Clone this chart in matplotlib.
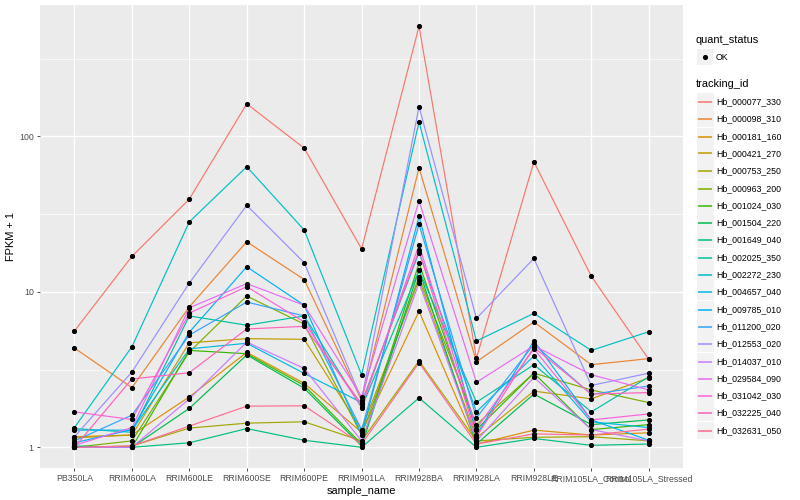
import numpy as np
import matplotlib
matplotlib.use("Agg")
from matplotlib import pyplot as plt
from matplotlib.lines import Line2D
from matplotlib.patches import Rectangle

plt.rcParams['font.family'] = ['Liberation Sans', 'DejaVu Sans']

samples = ['PB350LA', 'RRIM600LA', 'RRIM600LE', 'RRIM600SE', 'RRIM600PE', 'RRIM901LA',
           'RRIM928BA', 'RRIM928LA', 'RRIM928LE', 'RRIM105LA_Control', 'RRIM105LA_Stressed']

genes = ['Hb_000077_330', 'Hb_000098_310', 'Hb_000181_160', 'Hb_000421_270', 'Hb_000753_250',
         'Hb_000963_200', 'Hb_001024_030', 'Hb_001504_220', 'Hb_001649_040', 'Hb_002025_350',
         'Hb_002272_230', 'Hb_004657_040', 'Hb_009785_010', 'Hb_011200_020', 'Hb_012553_020',
         'Hb_014037_010', 'Hb_029584_090', 'Hb_031042_030', 'Hb_032225_040', 'Hb_032631_050']

# FPKM + 1, one row per gene, one column per sample
fpkm = [
    [5.6, 16.9, 39.5, 162, 84, 18.9, 510, 3.75, 68.7, 12.6, 3.68],
    [4.35, 2.42, 8.0, 21, 12.0, 2.0, 62.8, 3.55, 6.4, 3.4, 3.72],
    [1.17, 1.2, 2.11, 4.08, 2.58, 1.25, 7.5, 1.05, 1.29, 1.2, 1.24],
    [1.15, 1.2, 4.7, 5.0, 4.95, 1.3, 12.0, 1.15, 2.3, 2.05, 2.8],
    [1.0, 1.02, 1.33, 1.43, 1.46, 1.1, 3.6, 1.1, 1.16, 1.17, 1.1],
    [1.0, 1.1, 4.1, 9.4, 6.2, 1.2, 12.5, 1.4, 3.0, 2.34, 1.94],
    [1.0, 1.0, 4.2, 4.0, 2.5, 1.05, 15.3, 1.3, 3.0, 1.3, 1.4],
    [1.01, 1.0, 1.78, 3.93, 2.4, 1.02, 13.8, 1.05, 2.2, 1.4, 1.5],
    [1.02, 1.0, 1.07, 1.32, 1.11, 1.0, 2.08, 1.0, 1.14, 1.03, 1.05],
    [1.32, 1.25, 7.0, 6.1, 7.0, 1.8, 13.8, 1.95, 3.4, 1.69, 2.84],
    [1.34, 4.43, 28.2, 63.8, 25, 2.92, 124, 4.83, 7.27, 4.2, 5.54],
    [1.29, 1.29, 4.3, 4.67, 2.99, 1.94, 17.9, 1.69, 3.87, 1.46, 1.34],
    [1.07, 1.3, 5.5, 14.5, 8.2, 1.2, 30.6, 1.2, 4.85, 1.5, 1.11],
    [1.1, 1.61, 5.27, 8.6, 7.0, 1.3, 27.2, 1.55, 4.6, 2.19, 2.48],
    [1.17, 3.05, 11.4, 36, 15.4, 2.03, 155, 6.75, 16.4, 2.5, 3.0],
    [1.0, 1.0, 2.05, 4.75, 3.22, 1.1, 11.4, 1.1, 2.82, 1.3, 1.1],
    [1.03, 1.34, 7.9, 11.3, 8.2, 2.11, 38.5, 2.62, 4.5, 2.93, 2.34],
    [1.69, 1.51, 7.3, 10.8, 6.4, 1.82, 20, 1.32, 4.3, 1.5, 1.64],
    [1.0, 2.75, 3.02, 5.77, 6.0, 1.9, 18.5, 1.17, 4.4, 2.2, 2.25],
    [1.0, 1.02, 1.37, 1.84, 1.85, 1.05, 3.5, 1.05, 1.22, 1.2, 1.31],
]

colors = ['#F8766D', '#EA8331', '#D89000', '#C09B00', '#A3A500', '#7CAE00', '#39B600',
          '#00BB4E', '#00BF7D', '#00C1A3', '#00BFC4', '#00BAE0', '#00B0F6', '#35A2FF',
          '#9590FF', '#C77CFF', '#E76BF3', '#FA62DB', '#FF62BC', '#FF6C91']

fig = plt.figure(figsize=(8, 5), dpi=100)
ax = fig.add_axes([0.05, 0.064, 0.804, 0.926])
ax.set_facecolor('#EBEBEB')

x = np.arange(len(samples))
for vals, col in zip(fpkm, colors):
    ax.plot(x, vals, color=col, lw=0.85, zorder=3)
for vals in fpkm:
    ax.plot(x, vals, 'o', color='black', ms=2.7, zorder=4, lw=0)

ax.set_yscale('log')
ax.set_ylim(10 ** -0.133, 10 ** 2.845)
ax.set_xlim(-0.6, 10.6)

ax.set_yticks([1, 10, 100])
ax.set_yticklabels(['1', '10', '100'])
ax.set_yticks([10 ** 0.5, 10 ** 1.5, 10 ** 2.5], minor=True)
ax.yaxis.set_minor_formatter(plt.NullFormatter())
ax.set_xticks(x)
ax.set_xticklabels(samples)

ax.grid(which='major', color='white', lw=1.0, zorder=1)
ax.grid(which='minor', axis='y', color='white', lw=0.5, zorder=1)
ax.set_axisbelow(True)
for s in ax.spines.values():
    s.set_visible(False)
ax.tick_params(which='major', length=2.5, width=0.6, color='#333333',
               labelsize=6.3, labelcolor='#4D4D4D', pad=2)
ax.tick_params(which='minor', length=0)

ax.set_xlabel('sample_name', fontsize=7.9, labelpad=2)
ax.set_ylabel('FPKM + 1', fontsize=7.9, va='center')
ax.yaxis.set_label_coords(-0.045, 0.5)

# legend drawn by hand, in pixel coordinates
W, H = 800, 500
def fx(px):
    return px / W
def fy(py):
    return 1 - py / H

fig.text(fx(696), fy(40), 'quant_status', fontsize=7.9, va='center', ha='left')
fig.patches.append(Rectangle((fx(697), fy(65)), 16 / W, 16 / H, transform=fig.transFigure,
                             facecolor='#F2F2F2', edgecolor='none'))
fig.lines.append(Line2D([fx(705)], [fy(57)], marker='o', color='black', ms=2.7,
                        transform=fig.transFigure))
fig.text(fx(716), fy(57), 'OK', fontsize=6.3, va='center', ha='left')

fig.text(fx(696), fy(84), 'tracking_id', fontsize=7.9, va='center', ha='left')
for i, (g, col) in enumerate(zip(genes, colors)):
    cy = int(101.5 + i * 17.3) + 0.5
    fig.patches.append(Rectangle((fx(697), fy(cy + 8.3)), 16.5 / W, 16.6 / H,
                                 transform=fig.transFigure, facecolor='#F2F2F2', edgecolor='none'))
    fig.lines.append(Line2D([fx(698), fx(712)], [fy(cy), fy(cy)], color=col, lw=1.1,
                            solid_capstyle='butt', transform=fig.transFigure))
    fig.text(fx(716), fy(cy), g, fontsize=6.3, va='center', ha='left')

fig.savefig('out.png', dpi=100)
